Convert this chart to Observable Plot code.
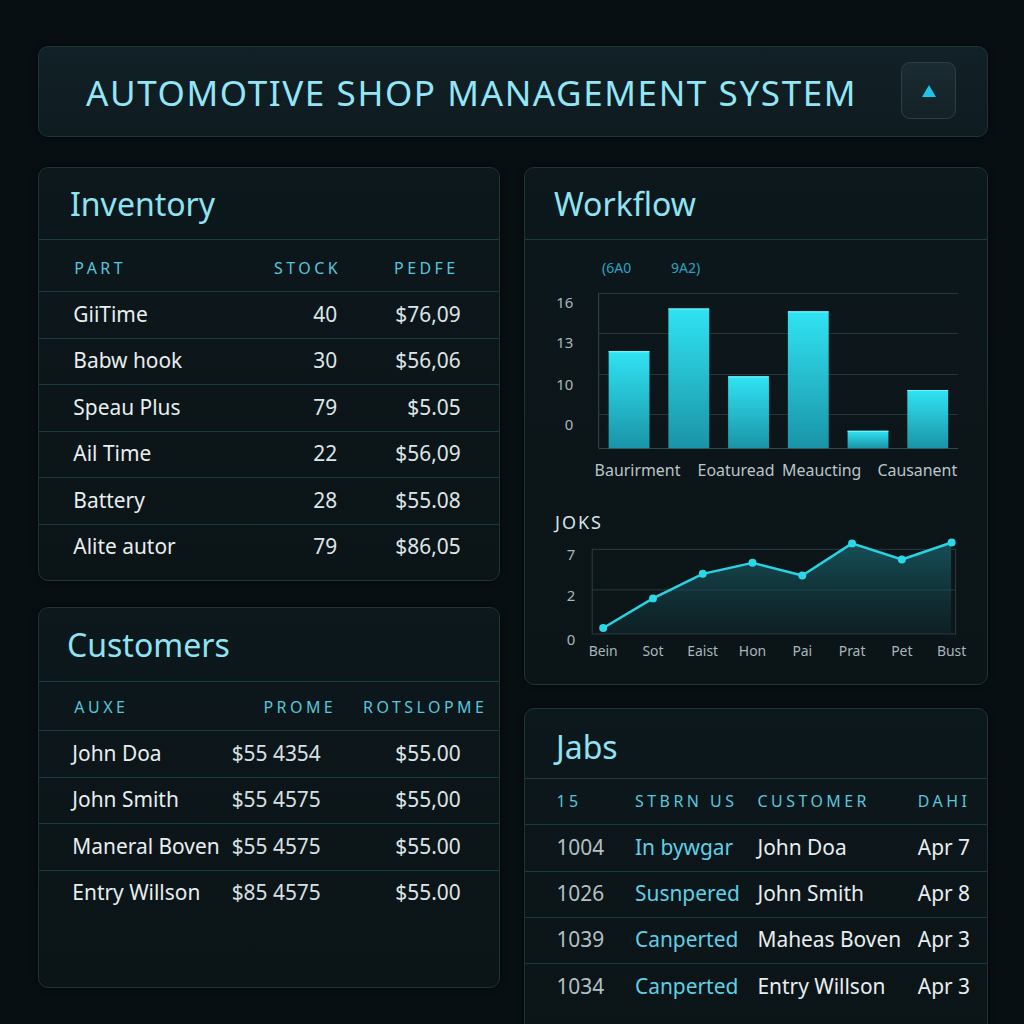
<!DOCTYPE html>
<html><head><meta charset="utf-8">
<script src="https://cdn.jsdelivr.net/npm/d3@7"></script>
<script src="https://cdn.jsdelivr.net/npm/@observablehq/plot@0.6"></script>
<style>
html,body{margin:0;padding:0;background:#080f12;}
body{width:1024px;height:1024px;position:relative;overflow:hidden;font-family:"Noto Sans",sans-serif;}
.panel{position:absolute;background:linear-gradient(180deg,#0d181c 0%,#0b1417 100%);border:1px solid #1e333a;border-radius:10px;box-sizing:border-box;box-shadow:0 0 6px rgba(0,0,0,0.6);}
.ptitle{position:absolute;color:#8fe3f3;font-size:32px;line-height:1;white-space:nowrap;}
.sep{position:absolute;left:0;right:0;height:1px;background:#1c3a44;}
.chart{position:absolute;left:0;}
.chart svg{display:block;overflow:visible;}
#htitle{position:absolute;left:47px;top:28px;font-size:35px;line-height:1;color:#93e6f6;letter-spacing:1.6px;white-space:nowrap;}
#btn{position:absolute;left:862px;top:15px;width:55px;height:57px;border-radius:9px;background:linear-gradient(180deg,#1a2b31,#142227);border:1px solid #2a3e45;box-sizing:border-box;}
#tri{position:absolute;left:20px;top:22px;width:0;height:0;border-left:7px solid transparent;border-right:7px solid transparent;border-bottom:12px solid #1ec3e6;}
.legend{position:absolute;top:93px;font-size:14px;line-height:1;color:#2aa3c0;}
#joks{position:absolute;left:30px;top:345px;font-size:18px;line-height:1;color:#d4e4e8;letter-spacing:2px;}
</style></head>
<body>
<div class="panel" style="left:38px;top:46px;width:950px;height:91px;background:linear-gradient(180deg,#122127,#0e1b20);">
  <div id="htitle">AUTOMOTIVE SHOP MANAGEMENT SYSTEM</div>
  <div id="btn"><div id="tri"></div></div>
</div>
<div class="panel" id="inv" style="left:38px;top:167px;width:462px;height:414px;">
  <div class="ptitle" style="left:31px;top:20px;">Inventory</div>
  <div class="sep" style="top:71px;"></div>
</div>
<div class="panel" id="cus" style="left:38px;top:607px;width:462px;height:381px;">
  <div class="ptitle" style="left:28px;top:21px;">Customers</div>
  <div class="sep" style="top:73px;"></div>
</div>
<div class="panel" id="wf" style="left:524px;top:167px;width:464px;height:518px;">
  <div class="ptitle" style="left:29px;top:20px;">Workflow</div>
  <div class="sep" style="top:71px;"></div>
  <div class="legend" id="lg0" style="left:77px;"></div>
  <div class="legend" id="lg1" style="left:146px;"></div>
  <div id="joks"></div>
</div>
<div class="panel" id="jobs" style="left:524px;top:708px;width:464px;height:340px;">
  <div class="ptitle" style="left:31px;top:22px;">Jabs</div>
  <div class="sep" style="top:69px;"></div>
</div>
<script>
// ---------- data ----------
const invHeaders = ["PART", "STOCK", "PEDFE"];
const invParts = ["GiiTime", "Babw hook", "Speau Plus", "Ail Time", "Battery", "Alite autor"];
const invStock = ["40", "30", "79", "22", "28", "79"];
const invPrice = ["$76,09", "$56,06", "$5.05", "$56,09", "$55.08", "$86,05"];

const cusHeaders = ["AUXE", "PROME", "ROTSLOPME"];
const cusNames = ["John Doa", "John Smith", "Maneral Boven", "Entry Willson"];
const cusPhones = ["$55 4354", "$55 4575", "$55 4575", "$85 4575"];
const cusTotals = ["$55.00", "$55,00", "$55.00", "$55.00"];

const jobHeaders = ["15", "STBRN US", "CUSTOMER", "DAHI"];
const jobIds = ["1004", "1026", "1039", "1034"];
const jobStatus = ["In bywgar", "Susnpered", "Canperted", "Canperted"];
const jobCustomers = ["John Doa", "John Smith", "Maheas Boven", "Entry Willson"];
const jobDates = ["Apr 7", "Apr 8", "Apr 3", "Apr 3"];

const legendLabels = ["(6A0", "9A2)"];
const barValues = [10, 14.4, 7.4, 14.1, 1.8, 6.0];
const barAxisLabels = ["Baurirment", "Eoaturead", "Meaucting", "Causanent"];
const barAxisBars = [0, 2, 3, 5];
const barTicks = [3.5, 7.6, 11.9, 16];
const barTickLabels = ["0", "10", "13", "16"];

const lineTitle = "JOKS";
const lineLabels = ["Bein", "Sot", "Eaist", "Hon", "Pai", "Prat", "Pet", "Bust"];
const lineValues = [0.7, 4.2, 7.1, 8.4, 6.9, 10.7, 8.8, 10.8];
const lineTicks = [0, 5.2, 10];
const lineTickLabels = ["0", "2", "7"];

// ---------- styles ----------
const SEP = "#1b3943", HDR = "#58c6dd", ROW = "#e8eef0", GREY = "#b3c0c4", CYAN = "#5fd0e6";
const FONT = "Noto Sans";

function dimsOf(args) { return args.find(a => a && a.marginLeft !== undefined && a.width !== undefined); }

function tablePlot(cfg) {
  const n = cfg.rows.length + 1;
  const height = n * cfg.rowH;
  const marks = [Plot.ruleY(d3.range(1, n), {stroke: SEP, strokeWidth: 1, shapeRendering: "crispEdges"})];
  cfg.cols.forEach(c => {
    marks.push(Plot.text([c.header], {x: () => c.hx, y: () => 0.5, text: d => d, textAnchor: c.hAnchor, fill: HDR, fontSize: 16}));
    marks.push(Plot.text(cfg.rows, {x: () => c.x, y: (d, i) => i + 1.5, text: c.key, textAnchor: c.anchor, fill: c.color, fontSize: 21}));
  });
  const svg = Plot.plot({
    width: cfg.width, height, margin: 0,
    x: {domain: [0, cfg.width], range: [0, cfg.width], axis: null},
    y: {domain: [0, n], range: [0, height], axis: null},
    style: {background: "transparent", overflow: "visible", fontFamily: FONT},
    marks
  });
  const hs = cfg.cols.map(c => c.header);
  svg.querySelectorAll("text").forEach(t => { if (hs.includes(t.textContent)) t.style.letterSpacing = "3.5px"; });
  return svg;
}

function mount(panelId, top, node) {
  const d = document.createElement("div");
  d.className = "chart"; d.style.top = top + "px";
  d.appendChild(node);
  document.getElementById(panelId).appendChild(d);
}

// Inventory
const invRows = invParts.map((p, i) => ({part: p, stock: invStock[i], price: invPrice[i]}));
mount("inv", 77, tablePlot({
  width: 462, rowH: 46.7, rows: invRows,
  cols: [
    {header: invHeaders[0], hx: 35, hAnchor: "start", key: "part", x: 34, anchor: "start", color: ROW},
    {header: invHeaders[1], hx: 303, hAnchor: "end", key: "stock", x: 299, anchor: "end", color: "#dde5e8"},
    {header: invHeaders[2], hx: 421, hAnchor: "end", key: "price", x: 423, anchor: "end", color: "#dde5e8"}
  ]
}));

// Customers
const cusRows = cusNames.map((p, i) => ({name: p, phone: cusPhones[i], total: cusTotals[i]}));
mount("cus", 76, tablePlot({
  width: 462, rowH: 46.7, rows: cusRows,
  cols: [
    {header: cusHeaders[0], hx: 35, hAnchor: "start", key: "name", x: 33, anchor: "start", color: ROW},
    {header: cusHeaders[1], hx: 298, hAnchor: "end", key: "phone", x: 193, anchor: "start", color: "#d6e0e3"},
    {header: cusHeaders[2], hx: 325, hAnchor: "start", key: "total", x: 423, anchor: "end", color: "#dde5e8"}
  ]
}));

// Jobs
const jobRows = jobIds.map((p, i) => ({id: p, status: jobStatus[i], customer: jobCustomers[i], date: jobDates[i]}));
mount("jobs", 69, tablePlot({
  width: 464, rowH: 46.5, rows: jobRows,
  cols: [
    {header: jobHeaders[0], hx: 31, hAnchor: "start", key: "id", x: 31, anchor: "start", color: GREY},
    {header: jobHeaders[1], hx: 110, hAnchor: "start", key: "status", x: 110, anchor: "start", color: CYAN},
    {header: jobHeaders[2], hx: 233, hAnchor: "start", key: "customer", x: 233, anchor: "start", color: ROW},
    {header: jobHeaders[3], hx: 394, hAnchor: "start", key: "date", x: 394, anchor: "start", color: ROW}
  ]
}));

// Legend + title texts
document.getElementById("lg0").textContent = legendLabels[0];
document.getElementById("lg1").textContent = legendLabels[1];
document.getElementById("joks").textContent = lineTitle;

// Bar chart
const bars = barValues.map((v, i) => ({bar: i, value: v}));
const barDefs = () => {
  const d = d3.create("svg:defs");
  const g = d.append("linearGradient").attr("id", "barGrad").attr("x1", 0).attr("y1", 0).attr("x2", 0).attr("y2", 1);
  g.append("stop").attr("offset", "0%").attr("stop-color", "#30e3f3");
  g.append("stop").attr("offset", "100%").attr("stop-color", "#1a94a7");
  return d.node();
};
const leftLine = (...args) => {
  const dm = dimsOf(args);
  return d3.create("svg:line").attr("x1", dm.marginLeft).attr("x2", dm.marginLeft)
    .attr("y1", dm.marginTop).attr("y2", dm.height - dm.marginBottom)
    .attr("stroke", "#33464c").node();
};
const labelNudge = [8, -13, 13, -11];
const barTickMap = new Map(barTicks.map((t, i) => [t, barTickLabels[i]]));
mount("wf", 113, Plot.plot({
  width: 464, height: 205, marginLeft: 74, marginRight: 29, marginTop: 12, marginBottom: 37,
  x: {type: "band", domain: d3.range(barValues.length), paddingInner: 0.31, paddingOuter: 0.155, axis: null},
  y: {domain: [0, 16], axis: null},
  style: {background: "transparent", overflow: "visible", fontFamily: FONT},
  marks: [
    barDefs,
    Plot.ruleY(barTicks, {stroke: "#25363c", shapeRendering: "crispEdges"}),
    Plot.axisY(barTicks, {label: null, tickSize: 0, tickPadding: 26, dy: 10, tickFormat: d => barTickMap.get(d), fill: "#a9b7bb", fontSize: 15}),
    leftLine,
    Plot.ruleY([0], {stroke: "#34474d", shapeRendering: "crispEdges"}),
    Plot.barY(bars, {x: "bar", y: "value", fill: "url(#barGrad)"}),
    Plot.tickY(bars, {x: "bar", y: "value", stroke: "#6ff3ff", strokeWidth: 1.2}),
    ...barAxisLabels.map((lab, k) => Plot.text([lab], {x: () => barAxisBars[k], text: d => d, frameAnchor: "bottom", dy: 27, dx: labelNudge[k], fill: "#b9c6ca", fontSize: 16}))
  ]
}));

// Line chart
const jobsSeries = lineLabels.map((l, i) => ({label: l, value: lineValues[i]}));
const areaDefs = () => {
  const d = d3.create("svg:defs");
  const g = d.append("linearGradient").attr("id", "areaGrad").attr("x1", 0).attr("y1", 0).attr("x2", 0).attr("y2", 1);
  g.append("stop").attr("offset", "0%").attr("stop-color", "#1a6670").attr("stop-opacity", 0.75);
  g.append("stop").attr("offset", "100%").attr("stop-color", "#12353b").attr("stop-opacity", 0.35);
  return d.node();
};
const lineTickMap = new Map(lineTicks.map((t, i) => [t, lineTickLabels[i]]));
mount("wf", 338, Plot.plot({
  width: 464, height: 160, marginLeft: 67, marginRight: 32, marginTop: 43, marginBottom: 32,
  x: {type: "point", domain: lineLabels, range: [76, 430], padding: 0, axis: null},
  y: {domain: [0, 10], axis: null},
  style: {background: "transparent", overflow: "visible", fontFamily: FONT},
  marks: [
    areaDefs,
    Plot.ruleY([lineTicks[1]], {stroke: "#2a3c42"}),
    Plot.areaY(jobsSeries, {x: "label", y: "value", fill: "url(#areaGrad)"}),
    Plot.frame({stroke: "#2b3d43"}),
    Plot.axisY(lineTicks, {label: null, tickSize: 0, tickPadding: 17, dy: 6, tickFormat: d => lineTickMap.get(d), fill: "#a9b7bb", fontSize: 15}),
    Plot.axisX({label: null, tickSize: 0, tickPadding: 12, fill: "#a9b6ba", fontSize: 14}),
    Plot.line(jobsSeries, {x: "label", y: "value", stroke: "#27d3e3", strokeWidth: 2.5}),
    Plot.dot(jobsSeries, {x: "label", y: "value", r: 4, fill: "#2ad8e8"})
  ]
}));
</script>
</body></html>
